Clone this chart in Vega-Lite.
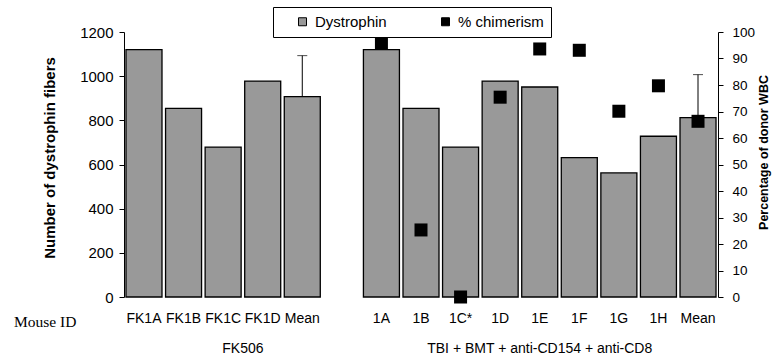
{
  "$schema": "https://vega.github.io/schema/vega-lite/v6.json",
  "width": 594,
  "height": 265,
  "autosize": {"type": "none"},
  "padding": {"left": 124, "top": 32, "right": 54, "bottom": 65},
  "config": {
    "view": {"stroke": null},
    "font": "Liberation Sans",
    "axis": {
      "grid": false,
      "domainColor": "black",
      "tickColor": "black",
      "labelColor": "black",
      "titleColor": "black",
      "labelFont": "Liberation Sans",
      "titleFont": "Liberation Sans",
      "labelFontSize": 14
    }
  },
  "data": {
    "values": [
      {"id": "FK1A", "dys": 1120, "chim": null, "upper": null},
      {"id": "FK1B", "dys": 854, "chim": null, "upper": null},
      {"id": "FK1C", "dys": 679, "chim": null, "upper": null},
      {"id": "FK1D", "dys": 978, "chim": null, "upper": null},
      {"id": "FK Mean", "dys": 907, "chim": null, "upper": 1093},
      {"id": "1A", "dys": 1120, "chim": 95.7, "upper": null},
      {"id": "1B", "dys": 854, "chim": 25.3, "upper": null},
      {"id": "1C*", "dys": 679, "chim": 0, "upper": null},
      {"id": "1D", "dys": 978, "chim": 75.4, "upper": null},
      {"id": "1E", "dys": 951, "chim": 93.6, "upper": null},
      {"id": "1F", "dys": 631, "chim": 93.1, "upper": null},
      {"id": "1G", "dys": 562, "chim": 70.1, "upper": null},
      {"id": "1H", "dys": 728, "chim": 79.7, "upper": null},
      {"id": "TBI Mean", "dys": 812, "chim": 66.3, "upper": 1007}
    ]
  },
  "layer": [
    {
      "layer": [
        {
          "mark": {"type": "bar", "stroke": "black", "strokeWidth": 1.3},
          "encoding": {
            "x": {
              "field": "id",
              "type": "nominal",
              "sort": null,
              "scale": {
                "domain": ["FK1A", "FK1B", "FK1C", "FK1D", "FK Mean", "gap", "1A", "1B", "1C*", "1D", "1E", "1F", "1G", "1H", "TBI Mean"],
                "paddingInner": 0.09,
                "paddingOuter": 0.05
              },
              "axis": {
                "labelAngle": 0,
                "domain": false,
                "ticks": false,
                "tickSize": 0,
                "labelPadding": 14,
                "labelExpr": "(datum.label == 'FK Mean' || datum.label == 'TBI Mean') ? 'Mean' : (datum.label == 'gap' ? '' : datum.label)",
                "title": "Mouse ID",
                "titleFont": "Liberation Serif",
                "titleFontSize": 15.5,
                "titleFontWeight": "normal",
                "titleAlign": "left",
                "titleBaseline": "middle",
                "titleX": -110.5,
                "titleY": 24.5
              }
            },
            "y": {
              "field": "dys",
              "type": "quantitative",
              "scale": {"domain": [0, 1200]},
              "axis": {
                "values": [0, 200, 400, 600, 800, 1000, 1200],
                "format": "d",
                "labelFontSize": 15,
                "tickSize": 5,
                "labelPadding": 6,
                "title": "Number of dystrophin fibers",
                "titleFontSize": 15,
                "titleFontWeight": "bold",
                "titlePadding": 22,
                "titleY": 125.5
              }
            },
            "color": {
              "datum": "Dystrophin",
              "type": "nominal",
              "scale": {"domain": ["Dystrophin", "% chimerism"], "range": ["#999999", "#000000"]},
              "legend": {
                "title": null,
                "orient": "none",
                "legendX": 149,
                "legendY": -25,
                "direction": "horizontal",
                "symbolType": "square",
                "symbolSize": 64,
                "symbolStrokeColor": "black",
                "symbolStrokeWidth": 1,
                "labelFontSize": 15,
                "labelFont": "Liberation Sans",
                "labelColor": "black",
                "strokeColor": "black",
                "fillColor": "white",
                "padding": 7,
                "columnPadding": 36,
                "symbolOffset": 15,
                "labelOffset": 5
              }
            }
          }
        },
        {
          "transform": [{"filter": "isValid(datum.upper)"}],
          "mark": {"type": "rule", "color": "black", "strokeWidth": 1},
          "encoding": {
            "x": {"field": "id", "type": "nominal"},
            "y": {"field": "dys", "type": "quantitative"},
            "y2": {"field": "upper"}
          }
        },
        {
          "transform": [{"filter": "isValid(datum.upper)"}],
          "mark": {"type": "tick", "color": "black", "size": 10, "thickness": 1, "orient": "horizontal"},
          "encoding": {
            "x": {"field": "id", "type": "nominal"},
            "y": {"field": "upper", "type": "quantitative"}
          }
        },
        {
          "data": {"values": [{"id": "FK1C", "label": "FK506"}]},
          "mark": {"type": "text", "fontSize": 14, "font": "Liberation Sans", "color": "black", "baseline": "middle", "dy": 52},
          "encoding": {
            "x": {"field": "id", "type": "nominal", "bandPosition": 1.05},
            "y": {"datum": 0, "type": "quantitative"},
            "text": {"field": "label"}
          }
        },
        {
          "data": {"values": [{"id": "1E", "label": "TBI + BMT + anti-CD154 + anti-CD8"}]},
          "mark": {"type": "text", "fontSize": 14, "font": "Liberation Sans", "color": "black", "baseline": "middle", "dy": 52},
          "encoding": {
            "x": {"field": "id", "type": "nominal"},
            "y": {"datum": 0, "type": "quantitative"},
            "text": {"field": "label"}
          }
        }
      ]
    },
    {
      "transform": [{"filter": "isValid(datum.chim)"}],
      "mark": {"type": "square", "size": 169, "opacity": 1, "filled": true},
      "encoding": {
        "x": {"field": "id", "type": "nominal"},
        "y": {
          "field": "chim",
          "type": "quantitative",
          "scale": {"domain": [0, 100]},
          "axis": {
            "orient": "right",
            "values": [0, 10, 20, 30, 40, 50, 60, 70, 80, 90, 100],
            "labelFontSize": 13.5,
            "tickSize": 5,
            "labelPadding": 9,
            "title": "Percentage of donor WBC",
            "titleFontSize": 12.5,
            "titleFontWeight": "bold",
            "titleAngle": 270,
            "titleBaseline": "top",
            "titlePadding": 3,
            "titleY": 120
          }
        },
        "color": {"datum": "% chimerism", "type": "nominal"}
      }
    }
  ],
  "resolve": {"scale": {"y": "independent"}}
}
